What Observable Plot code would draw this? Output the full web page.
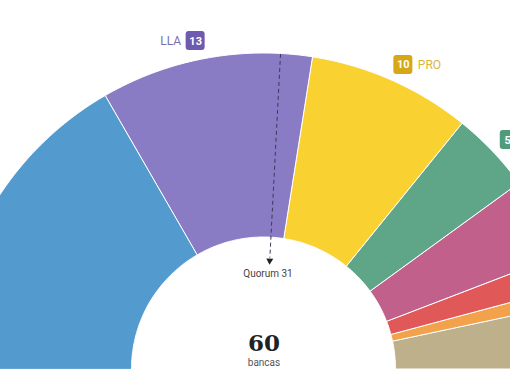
<!DOCTYPE html>
<html>
<head>
<meta charset="utf-8">
<script src="https://cdn.jsdelivr.net/npm/d3@7"></script>
<script src="https://cdn.jsdelivr.net/npm/@observablehq/plot@0.6"></script>
<style>
  html, body { margin: 0; padding: 0; background: #fff; overflow: hidden; }
  #chart svg { display: block; }
</style>
</head>
<body>
<div id="chart"></div>
<script>
// ---- data ----
const parties = ["Es Ahora BA", "LLA", "PRO", "Evolución", "Unión por la Patria", "FIT", "Confianza Pública", "Otros"];
const seats   = [20, 13, 10, 5, 5, 2, 1, 4];
const colors  = ["#539bce", "#8a7bc5", "#f9d231", "#5fa688", "#c1608a", "#e05858", "#f2a24b", "#beb08b"];
const labeled = ["LLA", "PRO", "Evolución"];
const showName = [true, true, false];   // the third label's name lies outside the visible frame
const badgeColors = ["#6e5aae", "#d6a716", "#4f9c7d"];
const nameColors  = ["#7b72a4", "#d9b53a", "#5a9a80"];
const quorum = 31;
const unitLabel = "bancas";
const quorumLabel = "Quorum";

// ---- layout ----
const W = 510, H = 369;
const cx = 263.5, cy = 369;        // pixel centre of the hemicycle
const R = 316, r0 = 132;           // outer / inner radius (px)
const total = d3.sum(seats);
const ang = s => Math.PI - Math.PI * s / total;   // seat position -> angle

// sector outlines (geometry sampled along each arc)
const cum = d3.cumsum(seats);
const arcs = [];
parties.forEach((p, i) => {
  const s0 = cum[i] - seats[i], s1 = cum[i];
  const n = Math.max(8, seats[i] * 6);
  for (let k = 0; k <= n; k++) {
    const a = ang(s0 + (s1 - s0) * k / n);
    arcs.push({party: p, xo: R * Math.cos(a), yo: R * Math.sin(a), xi: r0 * Math.cos(a), yi: r0 * Math.sin(a)});
  }
});

// labels: badge anchored by its inner edge at the segment's mid angle
const labels = labeled.map((p, j) => {
  const i = parties.indexOf(p);
  const a = ang(cum[i] - seats[i] / 2);
  const lr = 334;
  const left = Math.cos(a) < 0;
  const bw = String(seats[i]).length > 1 ? 19 : 15;
  const px = lr * Math.cos(a);
  const bx = left ? px + 2 - bw / 2 : px - 6 + bw / 2;
  const by = lr * Math.sin(a) - (left ? 0 : 0.5);
  return {party: p, n: seats[i], bx, by, bw, left, show: showName[j], badge: badgeColors[j], nameColor: nameColors[j]};
});

// quorum line
const qa = ang(quorum);
const q = {x1: R * Math.cos(qa), y1: R * Math.sin(qa), x2: 112 * Math.cos(qa), y2: 112 * Math.sin(qa),
           xt: 109 * Math.cos(qa), yt: 109 * Math.sin(qa)};

const chart = Plot.plot({
  width: W, height: H,
  margin: 0,
  x: {domain: [-cx, W - cx], range: [0, W], axis: null},
  y: {domain: [H - cy, cy], range: [H, 0], axis: null},
  color: {domain: parties, range: colors},
  style: {fontFamily: "Roboto, sans-serif", background: "#fff"},
  marks: [
    Plot.area(arcs, {x1: "xo", y1: "yo", x2: "xi", y2: "yi", z: "party", fill: "party", stroke: "#fff", strokeWidth: 1}),
    Plot.link([q], {x1: "x1", y1: "y1", x2: "x2", y2: "y2", stroke: "#3b3a5a", strokeWidth: 1, strokeDasharray: "4,3"}),
    Plot.dot([q], {x: "xt", y: "yt", symbol: "triangle", r: 2.6, fill: "#222", stroke: null, rotate: 183}),
    Plot.text([quorumLabel + " " + quorum], {x: 4, y: 96, text: d => d, fontSize: 10, fill: "#444", textAnchor: "middle"}),
    Plot.text([String(total)], {x: 0, y: 26, text: d => d, fontSize: 23, fontWeight: "bold", fontFamily: "DejaVu Serif, serif", fill: "#222", textAnchor: "middle"}),
    Plot.text([unitLabel], {x: 0, y: 7, text: d => d, fontSize: 10, fill: "#555", textAnchor: "middle"}),
    // badges
    Plot.rect(labels, {x1: d => d.bx - d.bw / 2, x2: d => d.bx + d.bw / 2, y1: d => d.by - 9.5, y2: d => d.by + 9.5, fill: d => d.badge, rx: 3}),
    Plot.text(labels, {x: "bx", y: "by", text: "n", fill: "#fff", fontSize: 11, fontWeight: "bold", textAnchor: "middle"}),
    Plot.text(labels.filter(d => d.show && d.left), {x: d => d.bx - d.bw / 2 - 5, y: "by", text: "party",
      fill: d => d.nameColor, fontSize: 12, textAnchor: "end"}),
    Plot.text(labels.filter(d => d.show && !d.left), {x: d => d.bx + d.bw / 2 + 5, y: "by", text: "party",
      fill: d => d.nameColor, fontSize: 12, textAnchor: "start"})
  ]
});
document.getElementById("chart").appendChild(chart);
</script>
</body>
</html>
